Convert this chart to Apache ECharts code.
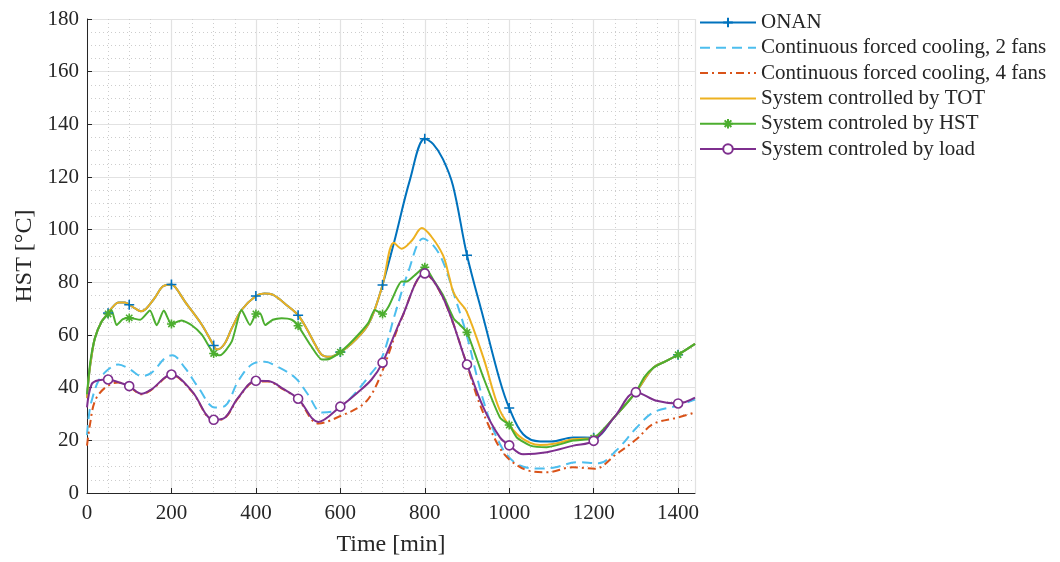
<!DOCTYPE html>
<html>
<head>
<meta charset="utf-8">
<script src="https://cdn.jsdelivr.net/npm/echarts@6/dist/echarts.min.js"></script>
<style>
  html, body { margin: 0; padding: 0; background: #fff; }
  #main { width: 1060px; height: 562px; }
</style>
</head>
<body>
<div id="main"></div>
<script>
// series names
var names = ['ONAN', 'Continuous forced cooling, 2 fans', 'Continuous forced cooling, 4 fans',
  'System controlled by TOT', 'System controled by HST', 'System controled by load'];

// times that carry a marker
var markerTimes = [50, 100, 200, 300, 400, 500, 600, 700, 800, 900, 1000, 1200, 1300, 1400];

// ONAN
var onanT = [0,5,10,19,35,50,60,75,90,100,115,127,140,160,180,200,210,232,272,300,308,325,343,366,400,420,440,477,500,520,540,556,575,600,625,650,666,680,700,727,765,800,820,843,867,900,939,978,1000,1033,1073,1100,1151,1200,1250,1300,1341,1370,1400,1440];
var onanV = [36,45,51,59,65.2,68.3,70.5,72.3,72.3,71.5,70,69,70,74,78.5,79.2,78,72.7,63.9,56,54.5,56.5,62.6,69.5,74.8,75.8,75.3,70.8,67.5,62.5,56.5,52.5,51.7,53.5,56.5,60.5,64,69,79,95,119,134.5,132.5,126.8,116.6,90.3,66.4,42.6,32.3,22.3,19.6,19.6,21.1,21,29,38.3,47.5,50,52.5,56.6];

// continuous forced cooling, 2 fans
var fan2T = [0,5,11,27,50,74,102,129,153,185,202,232,264,303,327,358,390,421,445,493,523,556,587,618,665,698,729,761,796,820,843,870,899,939,978,1018,1073,1110,1160,1212,1254,1302,1341,1400,1440];
var fan2V = [22,30,35,42.5,46.9,48.8,46.9,44.4,45.7,51.3,52.3,47.5,40,32.5,33.1,42.5,48.8,49.8,48.5,43.8,37.5,30.6,31.3,35,43.8,51.3,67.7,84,96.6,94,87.9,75,60.1,35,18.6,11,9.3,9.8,11.7,11.3,16.2,24.9,30.6,33.2,35.5];

// continuous forced cooling, 4 fans
var fan4T = [0,7,19,43,74,100,129,153,200,248,300,327,358,400,429,465,500,548,603,650,674,700,745,800,844,900,925,950,978,1002,1041,1089,1151,1203,1254,1302,1341,1400,1440];
var fan4V = [18,26,35,40,42,40.4,37.5,39.2,44.8,38.6,27.6,28.5,36,42.4,42.3,39.3,35.6,26.4,29.4,33.2,37.5,46.5,66.2,83.2,73.8,48.6,36,26.1,17,12.5,8.7,7.9,9.8,9.2,14.8,20.5,26.2,28.7,30.6];

// system controlled by TOT
var totT = [0,5,10,19,35,50,60,75,90,100,115,127,140,160,180,200,210,232,272,300,308,325,343,366,400,420,440,477,500,520,540,556,575,600,625,650,666,680,700,727,745,770,793,815,843,858,867,880,899,939,978,1018,1050,1073,1110,1151,1200,1250,1300,1341,1370,1400,1440];
var totV = [36,45,51,59,65.2,68.3,70.5,72.3,72.3,71.5,70,69,70,74,78.5,79.2,78,72.7,63.9,56,54.5,56.5,62.6,69.5,74.8,75.8,75.3,70.8,67.5,62.5,56.5,52.5,51.7,53.5,56.5,60.5,64,69,79,95,92.8,96,100.6,97.5,90.3,82,76.6,73,69,51.3,31.3,22.4,19,18.2,18.8,20.4,21,29,38.3,47.5,50,52.5,56.6];

// system controlled by HST
var hstT = [0,8,19,35,50,58,70,85,100,126,149,165,182,200,224,248,272,300,315,343,366,386,400,410,422,440,461,485,500,530,556,575,600,630,666,682,700,715,735,745,757,775,800,820,843,868,883,900,939,978,1000,1018,1050,1089,1152,1200,1250,1300,1320,1341,1370,1400,1440];
var hstV = [37.5,50,58.9,65.2,68,69.5,63.8,66,66.5,65.8,69.3,63.7,69.3,64.2,65.5,63.7,60.1,53,52.3,57.6,69.5,63.8,68,68.3,63.8,65.8,66.4,65.8,63.5,56,50.7,51,53.5,58,64.5,69.5,68,71,78,80.3,80.3,82.5,85.7,81,75.2,66.4,63.9,61,43.8,28.7,25.8,21.1,18,17.4,19.9,20.8,29,38.3,44,47.5,50,52.5,56.6];

// system controlled by load
var loadT = [0,11,27,50,74,100,129,153,200,248,300,327,358,400,429,465,500,548,600,640,674,700,745,800,844,900,939,978,1000,1033,1089,1152,1200,1250,1300,1349,1400,1440];
var loadV = [32.5,41.3,42.8,43.1,42.1,40.6,37.7,39.4,45,38.8,27.8,28.7,36.2,42.6,42.5,39.5,35.8,27,32.8,38,43.1,49.5,66.4,83.4,74,48.8,32.4,21.1,18.1,14.7,15.5,18,19.8,29,38.3,35,34,36.2];

var plusPath = 'path://M0,-1L0,1M-1,0L1,0';
var starPath = 'path://M0,-1L0,1M-1,0L1,0M-0.7,-0.7L0.7,0.7M-0.7,0.7L0.7,-0.7';
var noMark = 'path://M0,0L1,1';
var font = '"Liberation Serif", "DejaVu Serif", serif';
var txt = '#262626';

function pts(t, v) {
  return t.map(function (x, i) {
    var item = { value: [x, v[i]] };
    if (markerTimes.indexOf(x) < 0) item.symbol = 'none';
    return item;
  });
}

function line(name, t, v, color, opts) {
  opts = opts || {};
  var s = {
    name: name,
    type: 'line',
    smooth: opts.smooth || 0.35,
    data: opts.symbol ? pts(t, v) : t.map(function (x, i) { return [x, v[i]]; }),
    symbol: opts.symbol || noMark,
    symbolSize: opts.size || 9,
    showSymbol: !!opts.symbol,
    showAllSymbol: true,
    lineStyle: { color: color, width: 2, type: opts.dash || 'solid' },
    itemStyle: { color: opts.symbol ? (opts.fill || color) : 'rgba(0,0,0,0)', borderColor: color, borderWidth: opts.symbol ? 1.6 : 0 },
    emphasis: { disabled: true }
  };
  return s;
}

var myChart = echarts.init(document.getElementById('main'));

var option = {
  animation: false,
  backgroundColor: '#fff',
  grid: { left: 87, right: 365, top: 19, bottom: 66 },
  legend: {
    orient: 'vertical',
    left: 694,
    top: 7,
    itemWidth: 56,
    itemHeight: 12,
    itemGap: 4.3,
    textStyle: { fontFamily: font, fontSize: 21, color: txt, lineHeight: 20 },
    data: names
  },
  xAxis: {
    type: 'value',
    min: 0, max: 1440, interval: 200,
    name: 'Time [min]',
    nameLocation: 'middle',
    nameGap: 40,
    nameTextStyle: { fontFamily: font, fontSize: 24, color: txt },
    axisLine: { show: true, lineStyle: { color: txt, width: 1 } },
    axisTick: { show: true, inside: true, length: 5, lineStyle: { color: txt } },
    axisLabel: { fontFamily: font, fontSize: 21, color: txt, margin: 10, showMaxLabel: false,
      formatter: function (v) { return String(v); } },
    splitLine: { show: true, lineStyle: { color: '#e2e2e2', width: 1.2 } },
    minorTick: { show: false, splitNumber: 4 },
    minorSplitLine: { show: true, lineStyle: { color: '#cdcdcd', width: 1, type: [1, 3] } }
  },
  yAxis: {
    type: 'value',
    min: 0, max: 180, interval: 20,
    name: 'HST [°C]',
    nameLocation: 'middle',
    nameGap: 50,
    nameTextStyle: { fontFamily: font, fontSize: 24, color: txt },
    axisLine: { show: true, lineStyle: { color: txt, width: 1 } },
    axisTick: { show: true, inside: true, length: 5, lineStyle: { color: txt } },
    axisLabel: { fontFamily: font, fontSize: 21, color: txt, margin: 8,
      formatter: function (v) { return String(v); } },
    splitLine: { show: true, lineStyle: { color: '#e2e2e2', width: 1.2 } },
    minorTick: { show: false, splitNumber: 4 },
    minorSplitLine: { show: true, lineStyle: { color: '#cdcdcd', width: 1, type: [1, 3] } }
  },
  series: [
    line(names[0], onanT, onanV, '#0072BD', { symbol: plusPath, size: 10 }),
    line(names[1], fan2T, fan2V, '#4DBEEE', { dash: [10, 6] }),
    line(names[2], fan4T, fan4V, '#D95319', { dash: [8, 4, 2, 4] }),
    line(names[3], totT, totV, '#EDB120'),
    line(names[4], hstT, hstV, '#4cae2f', { symbol: starPath, size: 9, smooth: 0.2 }),
    line(names[5], loadT, loadV, '#7E2F8E', { symbol: 'circle', size: 9, fill: '#fff' })
  ]
};

myChart.setOption(option);
</script>
</body>
</html>
